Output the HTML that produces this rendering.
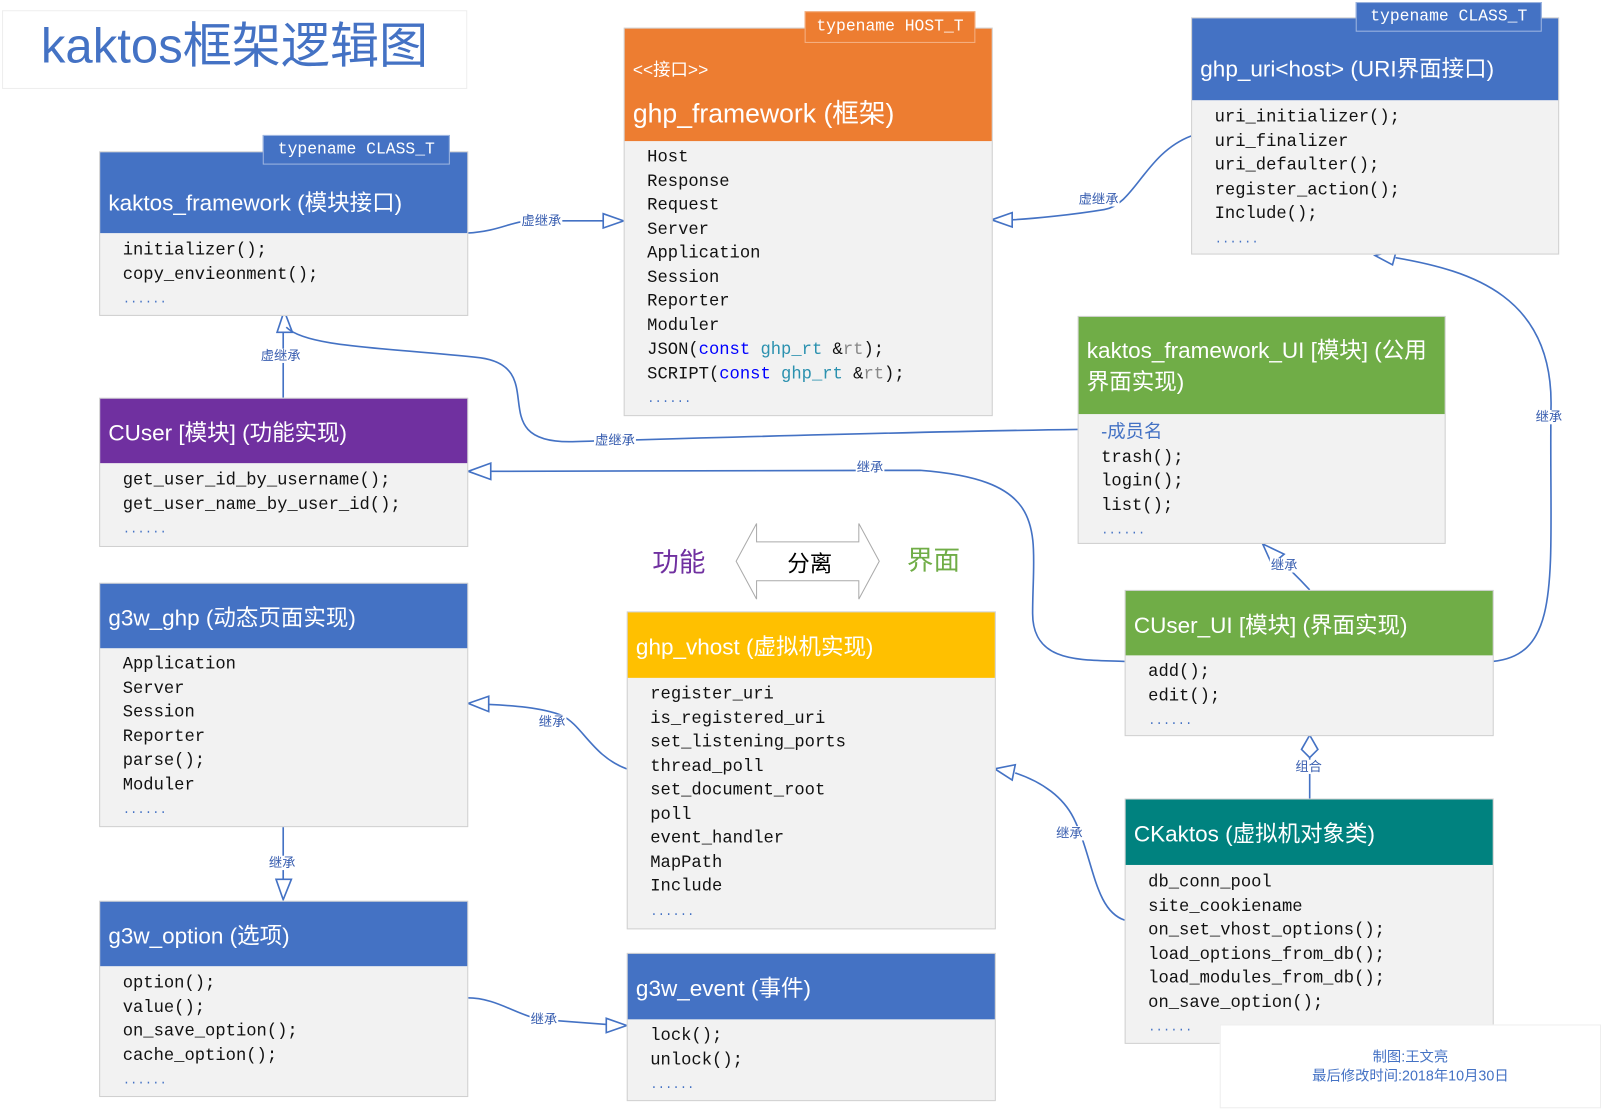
<!DOCTYPE html>
<html><head><meta charset="utf-8"><style>
body{margin:0;width:1601px;height:1109px;background:#fff;position:relative;overflow:hidden;font-family:"Liberation Sans","Noto Sans CJK SC",sans-serif}
#w{position:absolute;left:0;top:0;width:1566px;height:1085px;transform:scale(1.0224);transform-origin:0 0}
.b{position:absolute;background:#f2f2f2;border:1px solid #d0d0d0;box-sizing:border-box}
.h{position:absolute;left:0;right:0;top:0;color:#fff;font-size:22px;padding-left:8px;box-sizing:border-box;display:flex;align-items:center;font-family:"Liberation Sans Narrow","Liberation Sans","Noto Sans CJK SC",sans-serif}
.bd{position:absolute;left:22px;font-family:"Liberation Mono","Noto Sans CJK SC",monospace;font-size:16.8px;line-height:23.5px;color:#111;white-space:pre}
.d{color:#4472c4;font-size:12px;letter-spacing:0px}
.tag{position:absolute;background:#4472c4;border:1px solid #9fb6e0;color:#fff;font-family:"Liberation Mono",monospace;font-size:16px;text-align:center;box-sizing:border-box}
.lab{position:absolute;color:#3a5fb0;font-size:13px;background:#fff;line-height:14px;padding:0 1px}
</style></head><body><div id="w">
<div style="position:absolute;left:2px;top:10px;width:455px;height:77px;border:1px solid #eee;box-sizing:border-box"></div>
<div style="position:absolute;left:40px;top:14px;font-size:48px;color:#4472c4;line-height:64px">kaktos框架逻辑图</div>

<svg style="position:absolute;left:0;top:0" width="1566" height="1085" fill="none" stroke="#4472c4" stroke-width="1.6">
<path d="M457 228 C490 226 500 216 520 216 L592 216"/><polygon points="610,216 590,209 590,223" fill="#fff"/>
<path d="M1165 133 C1120 150 1110 200 1080 205 C1050 210 1010 214 990 215"/><polygon points="970,215 990,208 990,222" fill="#fff"/>
<path d="M277 389 L277 325"/><polygon points="278,304 271,325 286,325" fill="#fff"/>
<path d="M1054 420 C900 422 700 428 560 432 C470 434 540 360 470 350 C380 340 300 340 280 320"/>
<path d="M1100 647 C1060 645 1010 650 1010 600 C1010 520 1030 470 900 460 L480 461"/><polygon points="458,461 480,453 480,469" fill="#fff"/>
<path d="M1460 647 C1530 640 1515 560 1517 400 C1520 290 1440 265 1365 252"/><polygon points="1345,250 1366,244 1362,259" fill="#fff"/>
<path d="M1281 577 C1270 565 1260 555 1248 545"/><polygon points="1235,532 1244,552 1256,542" fill="#fff"/>
<path d="M1281 781 L1281 740"/><polygon points="1281,719 1273,733 1281,741 1289,733" fill="#fff"/>
<path d="M613 752 C580 740 570 710 550 700 C530 692 500 690 478 689"/><polygon points="458,688 478,681 478,696" fill="#fff"/>
<path d="M277 808 L277 860"/><polygon points="277,880 270,860 285,860" fill="#fff"/>
<path d="M1100 900 C1070 890 1070 840 1050 800 C1040 780 1020 765 993 756"/><polygon points="973,752 993,748 990,763" fill="#fff"/>
<path d="M457 976 C490 976 510 998 540 998 L593 1002"/><polygon points="613,1003 593,996 593,1010" fill="#fff"/>
<polygon points="740,512 740,530 840,530 840,512 860,549 840,586 840,568 740,568 740,586 720,549" stroke="#aaa" stroke-width="1" fill="#fff"/>
</svg>
<div class="lab" style="left:509px;top:209px">虚继承</div>
<div class="lab" style="left:1054px;top:188px">虚继承</div>
<div class="lab" style="left:254px;top:341px">虚继承</div>
<div class="lab" style="left:581px;top:424px">虚继承</div>
<div class="lab" style="left:837px;top:450px">继承</div>
<div class="lab" style="left:1501px;top:401px">继承</div>
<div class="lab" style="left:1242px;top:546px">继承</div>
<div class="lab" style="left:1266px;top:743px">组合</div>
<div class="lab" style="left:526px;top:699px">继承</div>
<div class="lab" style="left:262px;top:837px">继承</div>
<div class="lab" style="left:1032px;top:808px">继承</div>
<div class="lab" style="left:518px;top:990px">继承</div>
<div style="position:absolute;left:638px;top:530px;font-size:26px;color:#7030a0">功能</div>
<div style="position:absolute;left:770px;top:534px;font-size:22px;color:#000">分离</div>
<div style="position:absolute;left:887px;top:528px;font-size:26px;color:#70ad47">界面</div>

<div class="b" style="left:97px;top:148px;width:361px;height:161px"><div class="h" style="height:79px;background:#4472c4;padding-top:16px">kaktos_framework (模块接口)</div><div class="bd" style="top:85px">initializer();
copy_envieonment();
<span class="d">......</span></div></div>
<div class="tag" style="left:257px;top:132px;width:183px;height:29px;line-height:27px">typename CLASS_T</div>

<div class="b" style="left:610px;top:27px;width:361px;height:380px"><div class="h" style="height:110px;background:#ed7d31;display:block;padding-top:26px"><div style="font-size:17px">&lt;&lt;接口&gt;&gt;</div><div style="font-size:26px;margin-top:12px">ghp_framework (框架)</div></div><div class="bd" style="top:115px">Host
Response
Request
Server
Application
Session
Reporter
Moduler
JSON(<span style="color:#0000ff">const</span> <span style="color:#2b91af">ghp_rt</span> &amp;<span style="color:#888">rt</span>);
SCRIPT(<span style="color:#0000ff">const</span> <span style="color:#2b91af">ghp_rt</span> &amp;<span style="color:#888">rt</span>);
<span class="d">......</span></div></div>
<div class="tag" style="left:787px;top:11px;width:167px;height:31px;line-height:29px;background:#ed7d31;border-color:#f4b183">typename HOST_T</div>

<div class="b" style="left:1165px;top:17px;width:360px;height:232px"><div class="h" style="height:80px;background:#4472c4;padding-top:16px">ghp_uri&lt;host&gt; (URI界面接口)</div><div class="bd" style="top:86px">uri_initializer();
uri_finalizer
uri_defaulter();
register_action();
Include();
<span class="d">......</span></div></div>
<div class="tag" style="left:1326px;top:2px;width:182px;height:29px;line-height:27px">typename CLASS_T</div>

<div class="b" style="left:1054px;top:309px;width:360px;height:223px"><div class="h" style="height:95px;background:#70ad47;line-height:31px">kaktos_framework_UI [模块] (公用<br>界面实现)</div><div class="bd" style="top:101px"><span style="color:#4472c4;font-family:'Liberation Sans','Noto Sans CJK SC',sans-serif;font-size:18px">-成员名</span>
trash();
login();
list();
<span class="d">......</span></div></div>

<div class="b" style="left:97px;top:389px;width:361px;height:146px"><div class="h" style="height:63px;background:#7030a0">CUser [模块] (功能实现)</div><div class="bd" style="top:69px">get_user_id_by_username();
get_user_name_by_user_id();
<span class="d">......</span></div></div>

<div class="b" style="left:97px;top:570px;width:361px;height:239px"><div class="h" style="height:63px;background:#4472c4">g3w_ghp (动态页面实现)</div><div class="bd" style="top:68px">Application
Server
Session
Reporter
parse();
Moduler
<span class="d">......</span></div></div>

<div class="b" style="left:97px;top:881px;width:361px;height:192px"><div class="h" style="height:63px;background:#4472c4">g3w_option (选项)</div><div class="bd" style="top:69px">option();
value();
on_save_option();
cache_option();
<span class="d">......</span></div></div>

<div class="b" style="left:613px;top:598px;width:361px;height:311px"><div class="h" style="height:64px;background:#ffc000">ghp_vhost (虚拟机实现)</div><div class="bd" style="top:69px">register_uri
is_registered_uri
set_listening_ports
thread_poll
set_document_root
poll
event_handler
MapPath
Include
<span class="d">......</span></div></div>

<div class="b" style="left:613px;top:932px;width:361px;height:145px"><div class="h" style="height:64px;background:#4472c4">g3w_event (事件)</div><div class="bd" style="top:69px">lock();
unlock();
<span class="d">......</span></div></div>

<div class="b" style="left:1100px;top:577px;width:361px;height:143px"><div class="h" style="height:63px;background:#70ad47">CUser_UI [模块] (界面实现)</div><div class="bd" style="top:68px">add();
edit();
<span class="d">......</span></div></div>

<div class="b" style="left:1100px;top:781px;width:361px;height:240px"><div class="h" style="height:64px;background:#00827f">CKaktos (虚拟机对象类)</div><div class="bd" style="top:70px">db_conn_pool
site_cookiename
on_set_vhost_options();
load_options_from_db();
load_modules_from_db();
on_save_option();
<span class="d">......</span></div></div>

<div style="position:absolute;left:1193px;top:1002px;width:373px;height:82px;background:#fff;border:1px solid #eee;box-sizing:border-box;text-align:center;color:#4472c4;font-size:14px;line-height:19px;padding-top:21px">制图:王文亮<br>最后修改时间:2018年10月30日</div>
</div></body></html>
